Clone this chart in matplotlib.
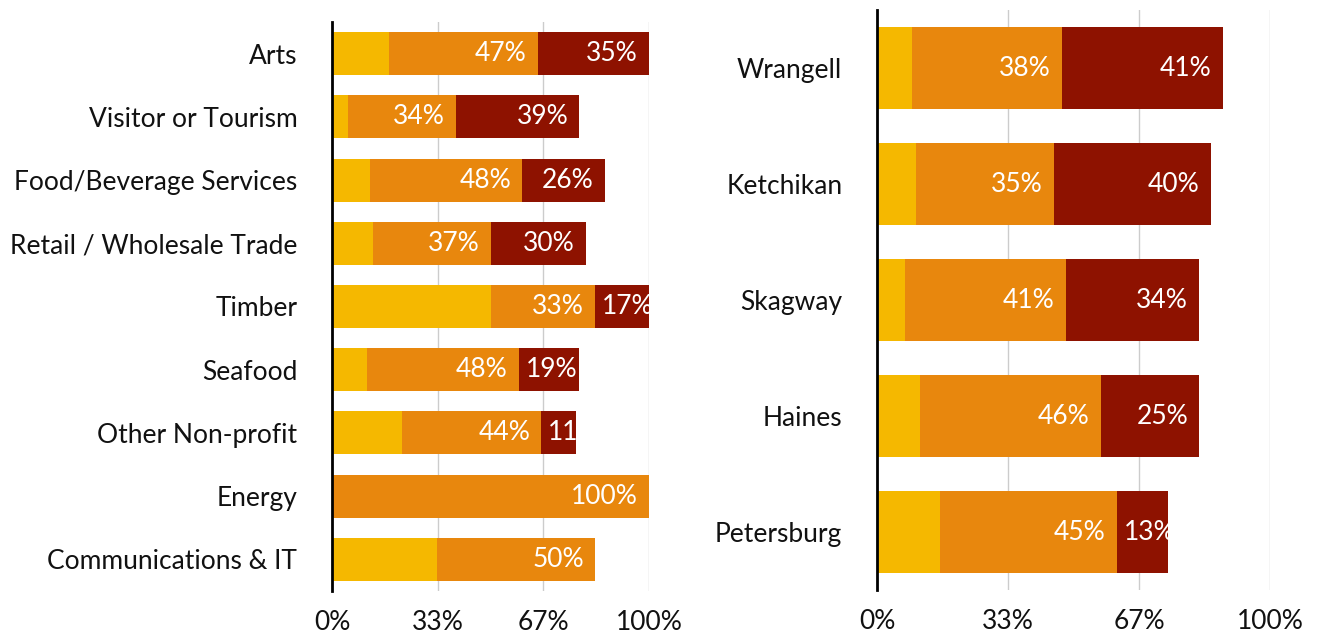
import matplotlib.pyplot as plt

plt.rcParams['font.family'] = ['Lato', 'DejaVu Sans']

# industries (left panel)
industries = ['Arts', 'Visitor or Tourism', 'Food/Beverage Services',
              'Retail / Wholesale Trade', 'Timber', 'Seafood',
              'Other Non-profit', 'Energy', 'Communications & IT']
ind_low = [18, 5, 12, 13, 50, 11, 22, 0, 33]
ind_mid = [47, 34, 48, 37, 33, 48, 44, 100, 50]
ind_high = [35, 39, 26, 30, 17, 19, 11, 0, 0]
ind_high_text = ['35%', '39%', '26%', '30%', '17%', '19%', '11', '', '']

# communities (right panel)
towns = ['Wrangell', 'Ketchikan', 'Skagway', 'Haines', 'Petersburg']
town_low = [9, 10, 7, 11, 16]
town_mid = [38, 35, 41, 46, 45]
town_high = [41, 40, 34, 25, 13]
town_high_text = ['41%', '40%', '34%', '25%', '13%']

tick_vals = [0, 100 / 3, 200 / 3, 100]
tick_text = ['0%', '33%', '67%', '100%']

YELLOW = '#F5B800'
ORANGE = '#E8870D'
RED = '#8E1200'
FS = 19


def label_segment(ax, bar, text, value):
    if not text:
        return
    x0 = bar.get_x()
    w = bar.get_width()
    y = bar.get_y() + bar.get_height() / 2
    if value < 20:
        t = ax.annotate(text, (x0, y), xytext=(5, 0), textcoords='offset points',
                        ha='left', va='center', color='white', fontsize=FS)
    else:
        t = ax.annotate(text, (x0 + w, y), xytext=(-8, 0), textcoords='offset points',
                        ha='right', va='center', color='white', fontsize=FS)
    t.set_clip_path(bar)


def draw_panel(ax, names, low, mid, high, high_text, height):
    pos = list(range(len(names)))
    left_mid = low
    left_high = [a + b for a, b in zip(low, mid)]
    ax.barh(pos, low, height=height, color=YELLOW, zorder=2)
    mid_bars = ax.barh(pos, mid, left=left_mid, height=height, color=ORANGE, zorder=2)
    high_bars = ax.barh(pos, high, left=left_high, height=height, color=RED, zorder=2)
    for b, v in zip(mid_bars, mid):
        label_segment(ax, b, f'{v}%', v)
    for b, v, s in zip(high_bars, high, high_text):
        if v > 0:
            label_segment(ax, b, s, v)

    ax.set_xlim(0, 100)
    ax.set_ylim(len(names) - 0.5, -0.5)
    ax.set_yticks(pos)
    ax.set_yticklabels(names, fontsize=FS, color='#111111')
    ax.set_xticks(tick_vals)
    ax.set_xticklabels(tick_text, fontsize=FS, color='#111111')
    ax.tick_params(axis='y', length=0, pad=25)
    ax.tick_params(axis='x', length=0, pad=14)
    for x in tick_vals[1:]:
        ax.axvline(x, color='#cccccc', lw=1, zorder=1)
    for s in ['top', 'right', 'bottom']:
        ax.spines[s].set_visible(False)
    ax.spines['left'].set_linewidth(2)
    ax.spines['left'].set_zorder(3)


fig = plt.figure(figsize=(13.21, 6.38), dpi=100)
W, H = 1321, 638
ax1 = fig.add_axes([332 / W, (H - 591) / H, (649 - 332) / W, (591 - 22) / H])
ax2 = fig.add_axes([877 / W, (H - 590) / H, (1270 - 877) / W, (590 - 10) / H])

draw_panel(ax1, industries, ind_low, ind_mid, ind_high, ind_high_text, 0.68)
draw_panel(ax2, towns, town_low, town_mid, town_high, town_high_text, 0.70)

fig.savefig('out.png', dpi=100)
